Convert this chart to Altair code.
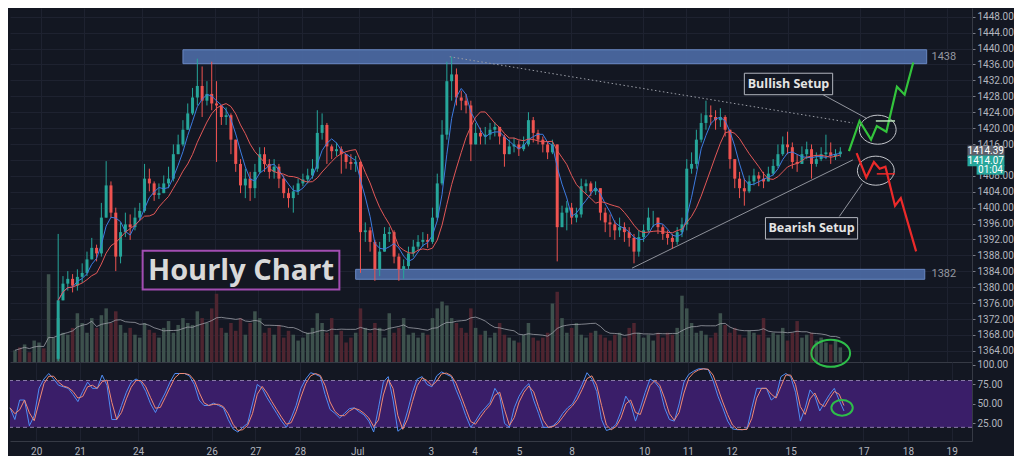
import altair as alt
import numpy as np
import pandas as pd

# ---------------- data ----------------
FIRST_SLOT = 9          # first visible candle slot
FIRST_OPEN = 1362.0

closes = [
    1376.7, 1380.9, 1382.1, 1380.4, 1382.6, 1383.6, 1387.0, 1389.9, 1388.5, 1397.5,
    1405.6, 1398.75, 1387.7, 1393.85, 1395.8, 1395.1, 1397.5, 1399.2, 1407.3, 1406.1,
    1403.2, 1403.65, 1406.1, 1407.3, 1413.45, 1415.9, 1419.6, 1423.7, 1427.7, 1430.6,
    1426.9, 1428.6, 1426.2, 1425.7, 1422.8, 1423.25, 1417.1, 1411.0, 1405.6, 1407.3,
    1404.9, 1409.0, 1413.45, 1411.0, 1409.0, 1410.3, 1407.3, 1403.65, 1402.4, 1404.1,
    1406.1, 1407.1, 1408.1, 1409.8, 1418.8, 1420.8, 1415.4, 1414.2, 1414.7, 1413.45,
    1411.5, 1411.0, 1411.5, 1393.85, 1394.3, 1391.4, 1384.5, 1388.95, 1393.4, 1393.85,
    1387.7, 1384.5, 1385.3, 1388.5, 1390.2, 1391.4, 1391.9, 1391.4, 1397.5, 1406.1,
    1418.35, 1431.8, 1433.5, 1427.7, 1426.9, 1425.7, 1415.9, 1418.8, 1417.9, 1418.35,
    1419.6, 1420.3, 1417.9, 1413.45, 1415.4, 1415.9, 1414.7, 1415.9, 1422.0, 1418.8,
    1417.1, 1415.9, 1413.9, 1415.9, 1395.1, 1398.75, 1400.0, 1397.5, 1398.3, 1405.4,
    1406.1, 1404.1, 1404.9, 1398.75, 1396.3, 1395.8, 1394.3, 1395.1, 1393.85, 1392.4,
    1388.95, 1392.6, 1394.3, 1397.5, 1397.5, 1395.1, 1393.4, 1392.4, 1391.4, 1393.85,
    1395.8, 1409.8, 1411.0, 1417.1, 1421.3, 1423.25, 1422.8, 1422.0, 1422.8, 1419.6,
    1412.2, 1407.3, 1404.9, 1404.1, 1406.6, 1408.1, 1407.3, 1406.6, 1408.55, 1410.5,
    1413.45, 1415.9, 1415.2, 1411.5, 1411.0, 1413.45, 1414.7, 1411.0, 1412.2, 1413.45,
    1413.9, 1413.0, 1413.45, 1414.1,
]
highs = [
    1393.4, 1382.8, 1384.05, 1383.3, 1384.5, 1386.0, 1388.95, 1392.4, 1390.7, 1401.2,
    1411.7, 1406.6, 1400.0, 1396.3, 1398.75, 1398.3, 1400.0, 1401.2, 1411.0, 1409.8,
    1406.6, 1406.1, 1408.1, 1410.3, 1415.9, 1418.35, 1422.0, 1426.2, 1430.1, 1437.46,
    1435.5, 1431.8, 1436.7, 1431.8, 1425.7, 1425.2, 1423.7, 1417.1, 1412.2, 1409.8,
    1409.0, 1411.0, 1415.2, 1415.2, 1412.2, 1412.2, 1411.0, 1408.1, 1404.9, 1405.6,
    1407.3, 1408.55, 1409.8, 1412.2, 1424.5, 1423.7, 1421.3, 1415.9, 1416.4, 1415.4,
    1413.45, 1413.45, 1413.0, 1411.7, 1396.3, 1395.1, 1391.9, 1391.4, 1395.1, 1395.1,
    1394.3, 1388.5, 1387.0, 1390.2, 1391.9, 1393.1, 1393.85, 1393.4, 1400.0, 1408.55,
    1422.0, 1436.7, 1437.95, 1435.0, 1429.4, 1428.6, 1426.9, 1421.3, 1420.1, 1420.3,
    1421.3, 1421.5, 1420.3, 1418.35, 1417.1, 1417.6, 1416.9, 1417.9, 1424.0, 1422.8,
    1419.6, 1417.9, 1416.6, 1417.1, 1415.9, 1400.5, 1401.7, 1401.2, 1400.0, 1407.3,
    1407.1, 1406.6, 1406.6, 1404.9, 1400.0, 1398.3, 1396.8, 1397.5, 1396.3, 1395.1,
    1393.4, 1394.3, 1395.8, 1400.0, 1399.2, 1397.5, 1395.8, 1394.3, 1393.4, 1395.1,
    1397.5, 1412.2, 1413.9, 1419.6, 1423.7, 1426.9, 1425.7, 1424.5, 1425.0, 1423.25,
    1419.6, 1412.2, 1409.0, 1407.3, 1408.1, 1409.8, 1409.0, 1409.0, 1410.3, 1412.2,
    1415.9, 1417.9, 1419.1, 1416.4, 1413.45, 1415.4, 1416.6, 1415.9, 1413.9, 1415.2,
    1418.35, 1416.4, 1414.7, 1415.2,
]
lows = [
    1361.5, 1376.7, 1379.15, 1378.7, 1379.15, 1381.1, 1382.8, 1387.7, 1386.5, 1387.7,
    1397.5, 1397.5, 1384.05, 1386.0, 1392.6, 1391.9, 1394.3, 1396.8, 1398.75, 1404.1,
    1401.7, 1402.2, 1403.65, 1404.9, 1406.6, 1413.45, 1415.4, 1419.6, 1423.25, 1425.7,
    1422.8, 1425.7, 1424.5, 1411.5, 1420.8, 1420.8, 1413.45, 1409.0, 1403.65, 1402.4,
    1401.7, 1402.4, 1408.55, 1409.0, 1407.3, 1407.3, 1404.9, 1402.4, 1400.0, 1398.75,
    1403.2, 1405.4, 1406.1, 1407.3, 1409.0, 1417.1, 1411.0, 1412.2, 1413.0, 1408.55,
    1409.8, 1409.5, 1409.0, 1383.6, 1391.4, 1388.95, 1381.6, 1382.8, 1388.95, 1391.4,
    1386.0, 1381.6, 1382.1, 1384.5, 1387.7, 1389.4, 1390.2, 1389.9, 1390.9, 1396.8,
    1405.6, 1417.1, 1426.9, 1425.7, 1424.5, 1423.7, 1411.7, 1415.9, 1415.9, 1415.9,
    1417.1, 1417.9, 1415.9, 1410.3, 1413.45, 1413.9, 1413.0, 1414.2, 1415.4, 1416.4,
    1415.9, 1413.9, 1412.2, 1413.45, 1386.5, 1395.1, 1394.3, 1395.8, 1396.3, 1397.5,
    1403.65, 1402.9, 1403.2, 1396.8, 1393.85, 1392.6, 1391.9, 1392.6, 1391.4, 1390.2,
    1386.0, 1387.7, 1391.4, 1393.85, 1395.1, 1393.4, 1391.9, 1390.7, 1389.7, 1390.7,
    1392.6, 1394.3, 1408.55, 1409.8, 1416.4, 1419.6, 1420.8, 1419.6, 1420.3, 1417.9,
    1409.8, 1404.9, 1402.4, 1400.5, 1403.65, 1405.6, 1405.4, 1404.9, 1406.6, 1408.1,
    1410.0, 1413.0, 1413.45, 1409.8, 1409.0, 1411.0, 1412.2, 1407.3, 1410.3, 1411.7,
    1412.2, 1411.0, 1412.0, 1412.7,
]
volumes = [
    12, 15, 18, 10, 22, 20, 14, 90, 25, 45,
    30, 28, 35, 50, 40, 30, 45, 35, 48, 55,
    40, 52, 38, 30, 35, 28, 25, 40, 33, 30,
    25, 35, 42, 30, 38, 45, 40, 38, 52, 45,
    40, 55, 70, 35, 30, 40, 32, 45, 28, 40,
    52, 45, 30, 35, 28, 38, 25, 32, 28, 22,
    25, 30, 35, 50, 40, 30, 45, 28, 32, 20,
    25, 30, 55, 35, 30, 40, 35, 25, 50, 30,
    35, 45, 28, 30, 25, 30, 28, 45, 55, 62,
    58, 45, 40, 35, 30, 55, 35, 28, 32, 25,
    30, 40, 28, 25, 22, 20, 28, 40, 25, 22,
    25, 30, 60, 72, 45, 30, 35, 40, 28, 25,
    30, 32, 28, 25, 22, 28, 30, 25, 35, 40,
    30, 25, 28, 22, 30, 25, 30, 28, 35, 68,
    55, 40, 30, 32, 28, 25, 30, 50, 38, 30,
    35, 28, 25, 32, 30, 28, 45, 25, 30, 28,
    35, 22, 30, 42, 25, 28, 30, 22, 25, 20,
    18, 22, 15,
]
pre_volume_dir = ["up", "down", "up", "down", "up", "up", "down", "up", "up"]
stoch_k = [
    45, 30, 55, 55, 22, 35, 70, 82, 89, 82,
    74, 72, 70, 62, 53, 66, 78, 70, 70, 87,
    74, 30, 30, 48, 65, 78, 82, 78, 66, 50,
    39, 52, 64, 78, 89, 89, 89, 86, 75, 55,
    48, 48, 51, 48, 45, 30, 18, 14, 20, 25,
    50, 75, 70, 58, 48, 38, 28, 20, 32, 48,
    70, 82, 90, 88, 85, 62, 43, 38, 32, 38,
    44, 45, 40, 36, 28, 14, 45, 78, 85, 55,
    15, 20, 41, 65, 82, 85, 75, 72, 86, 91,
    88, 85, 68, 53, 35, 20, 28, 38, 45, 52,
    70, 60, 25, 20, 45, 60, 70, 76, 55, 38,
    20, 20, 22, 28, 38, 45, 50, 62, 75, 90,
    82, 66, 30, 16, 18, 24, 40, 60, 50, 28,
    45, 65, 82, 78, 70, 45, 30, 28, 50, 78,
    88, 92, 95, 95, 94, 80, 60, 45, 28, 18,
    17, 17, 18, 45, 70, 70, 70, 55, 60, 85,
    89, 85, 65, 28, 45, 68, 60, 41, 52, 62,
    70, 55, 41,
]

date_pos = [5.4, 14.4, 26.4, 41.6, 50.6, 59.8, 71.6, 86.8, 95.8, 105.0,
            115.8, 130.8, 139.8, 148.8, 161.0, 176.0, 185.2, 194.2]
date_lab = ["20", "21", "24", "26", "27", "28", "Jul", "3", "4", "5",
            "8", "10", "11", "12", "15", "17", "18", "19"]
price_ticks = list(range(1364, 1449, 4))
hidden_price_labels = [1412]   # covered by the last-price tags in the reference
osc_ticks = [25, 50, 75, 100]

# annotations (slot, price)
band_x1 = [35, 71]
band_x2 = [190, 189.6]
band_lo = [1436.2, 1382.0]
band_hi = [1439.7, 1384.5]
band_text = ["1438", "1382"]
band_text_y = [1438.0, 1383.3]

trend_x1 = [90.6, 128.6]
trend_y1 = [1437.95, 1384.8]
trend_x2 = [174.6, 174.6]
trend_y2 = [1421.3, 1412.0]

bull_x = [173.8, 176.0, 178.4, 179.6, 181.6, 183.8, 185.4, 187.2]
bull_y = [1414.2, 1421.8, 1417.1, 1420.5, 1419.1, 1430.4, 1428.4, 1436.5]
bear_x = [175.4, 177.4, 179.0, 180.2, 181.4, 183.4, 184.6, 187.8]
bear_y = [1413.7, 1407.6, 1411.5, 1409.8, 1410.3, 1400.5, 1402.4, 1389.0]

setup_text = ["Bullish Setup", "Bearish Setup"]
setup_x1 = [152.0, 156.4]
setup_x2 = [170.4, 175.6]
setup_lo = [1428.4, 1392.1]
setup_hi = [1433.8, 1397.5]
conn_x1 = [168.4, 171.8]
conn_y1 = [1428.4, 1397.8]
conn_x2 = [177.4, 176.6]
conn_y2 = [1422.5, 1406.1]
ell_x = [179.8, 179.4]
ell_y = [1419.6, 1409.3]

# ---------------- frames ----------------
n = len(closes)
assert len(highs) == n and len(lows) == n
assert len(volumes) == len(stoch_k)
slots = list(range(FIRST_SLOT, FIRST_SLOT + n))
opens = [FIRST_OPEN] + closes[:-1]
candles = pd.DataFrame(dict(slot=slots, open=opens, high=highs, low=lows, close=closes))
candles["high"] = candles[["high", "open", "close"]].max(axis=1)
candles["low"] = candles[["low", "open", "close"]].min(axis=1)
candles["col"] = np.where(candles["close"] >= candles["open"], "#26a69a", "#ef5350")
up_dir = dict(zip(candles["slot"], candles["close"] >= candles["open"]))

vol = pd.DataFrame(dict(slot=list(range(len(volumes))), vol=volumes))
vcol = []
for s in vol["slot"]:
    if s in up_dir:
        up = bool(up_dir[s])
    else:
        up = pre_volume_dir[s] == "up" if s < len(pre_volume_dir) else True
    vcol.append("#3d514d" if up else "#4e2530")
vol["col"] = vcol

osc = pd.DataFrame(dict(slot=list(range(len(stoch_k))), k=stoch_k))

W, H_PRICE, H_OSC = 962, 354, 79
XS = alt.Scale(domain=[0, 198.4], nice=False, zero=False)
PY = alt.Scale(domain=[1361.2, 1450.2], nice=False, zero=False)
VY = alt.Scale(domain=[0, 363], nice=False, zero=True)
OY = alt.Scale(domain=[2.5, 103.75], nice=False, zero=False)

GRID = "#1e2230"
LINE = "#363a45"
LAB = "#b2b5be"
FONT = "Roboto"

price_x_axis = alt.Axis(values=date_pos, labels=False, ticks=False, domain=True,
                        domainColor=LINE, grid=True, gridColor=GRID, title=None,
                        minExtent=0, maxExtent=0, offset=0)
label_expr = "[" + ",".join("'%s'" % s for s in date_lab) + "][indexof([" + \
    ",".join(str(p) for p in date_pos) + "], datum.value)]"
osc_x_axis = alt.Axis(values=date_pos, labelExpr=label_expr, ticks=False, domain=True,
                      domainColor=LINE, grid=True, gridColor=GRID, labelColor=LAB,
                      labelFont=FONT, labelFontSize=10, labelPadding=5, title=None,
                      labelOverlap=False, labelFlush=False,
                      labelFontWeight={"condition": {"test": "datum.label == 'Jul'", "value": "bold"},
                                       "value": "normal"})
price_label_expr = "indexof([" + ",".join(str(v) for v in hidden_price_labels) + \
    "], datum.value) >= 0 ? '' : format(datum.value, '.2f')"
price_y_axis = alt.Axis(orient="right", values=price_ticks, labelExpr=price_label_expr, title=None,
                        labelColor=LAB, labelFont=FONT, labelFontSize=10, labelPadding=2,
                        ticks=True, tickSize=3, tickColor="#787b86", domain=True,
                        domainColor=LINE, grid=True, gridColor=GRID, labelOverlap=False)
osc_y_axis = alt.Axis(orient="right", values=osc_ticks, format=".2f", title=None,
                      labelColor=LAB, labelFont=FONT, labelFontSize=10, labelPadding=2,
                      ticks=True, tickSize=3, tickColor="#787b86", domain=True,
                      domainColor=LINE, grid=False, labelOverlap=False)


def px(f):
    return alt.X(f, type="quantitative", scale=XS, axis=price_x_axis)


def py(f):
    return alt.Y(f, type="quantitative", scale=PY, axis=price_y_axis)


def vy(f):
    return alt.Y(f, type="quantitative", scale=VY, axis=None)


def ox(f):
    return alt.X(f, type="quantitative", scale=XS, axis=osc_x_axis)


def oy(f):
    return alt.Y(f, type="quantitative", scale=OY, axis=osc_y_axis)


def ellipse(ratio):
    return "M -1 0 A 1 %.2f 0 1 1 1 0 A 1 %.2f 0 1 1 -1 0 Z" % (ratio, ratio)


# ---------------- volume sub-layer ----------------
vol_bars = alt.Chart(vol).mark_bar(size=3.5).encode(
    x=px("slot"), y=vy("vol"), color=alt.Color("col:N", scale=None))
vol_ma = alt.Chart(vol).transform_window(
    vma="mean(vol)", frame=[-9, 0], sort=[alt.SortField("slot")]
).mark_line(color="#a3a6ad", strokeWidth=1, opacity=0.75).encode(x=px("slot"), y=vy("vma:Q"))
vol_circle = alt.Chart(pd.DataFrame(dict(slot=[170.0], v=[9.0]))).mark_point(
    shape=ellipse(0.7), size=1505, filled=False, color="#2ebd4a", strokeWidth=2, opacity=1
).encode(x=px("slot"), y=vy("v"))
vol_group = alt.layer(vol_bars, vol_ma, vol_circle)

# ---------------- price sub-layer ----------------
bands = pd.DataFrame(dict(x1=band_x1, x2=band_x2, lo=band_lo, hi=band_hi))
band_layer = alt.Chart(bands).mark_rect(color="#4a68a0", opacity=0.95, stroke="#6e8ecb",
                                        strokeWidth=1).encode(
    x=px("x1"), x2=alt.X2("x2"), y=py("lo"), y2=alt.Y2("hi"))
band_lbl = alt.Chart(pd.DataFrame(dict(x=[191.0, 191.0], y=band_text_y, t=band_text))).mark_text(
    align="left", baseline="middle", color="#9598a1", font=FONT, fontSize=11
).encode(x=px("x"), y=py("y"), text="t:N")

trend = pd.DataFrame(dict(x1=trend_x1, y1=trend_y1, x2=trend_x2, y2=trend_y2))
trend_dotted = alt.Chart(trend.iloc[[0]]).mark_rule(color="#9a9da6", strokeWidth=1,
                                                     strokeDash=[1.5, 2.5]).encode(
    x=px("x1"), y=py("y1"), x2=alt.X2("x2"), y2=alt.Y2("y2"))
trend_solid = alt.Chart(trend.iloc[[1]]).mark_rule(color="#8e919a", strokeWidth=1).encode(
    x=px("x1"), y=py("y1"), x2=alt.X2("x2"), y2=alt.Y2("y2"))

wicks = alt.Chart(candles).mark_rule(strokeWidth=1, clip=True).encode(
    x=px("slot"), y=py("low"), y2=alt.Y2("high"), color=alt.Color("col:N", scale=None))
bodies = alt.Chart(candles).mark_bar(size=3, clip=True).encode(
    x=px("slot"), y=py("open"), y2=alt.Y2("close"), color=alt.Color("col:N", scale=None))
ma_fast = alt.Chart(candles).transform_window(
    m="mean(close)", frame=[-3, 0], sort=[alt.SortField("slot")]
).mark_line(color="#3d7be0", strokeWidth=1, clip=True).encode(x=px("slot"), y=py("m:Q"))
ma_slow = alt.Chart(candles).transform_window(
    m="mean(close)", frame=[-8, 0], sort=[alt.SortField("slot")]
).mark_line(color="#e25757", strokeWidth=1, clip=True).encode(x=px("slot"), y=py("m:Q"))

hourly_box = alt.Chart(pd.DataFrame(dict(x1=[26.6], x2=[67.6], lo=[1379.4], hi=[1389.2]))).mark_rect(
    fill="#131722", stroke="#a24db2", strokeWidth=2).encode(
    x=px("x1"), x2=alt.X2("x2"), y=py("lo"), y2=alt.Y2("hi"))
hourly_txt = alt.Chart(pd.DataFrame(dict(x=[47.1], y=[1384.2], t=["Hourly Chart"]))).mark_text(
    font="Open Sans", fontWeight="bold", fontSize=29, color="#d9d9d9", baseline="middle"
).encode(x=px("x"), y=py("y"), text="t:N")

setup = pd.DataFrame(dict(x1=setup_x1, x2=setup_x2, lo=setup_lo, hi=setup_hi, t=setup_text,
                          xm=[(a + b) / 2 for a, b in zip(setup_x1, setup_x2)],
                          ym=[(a + b) / 2 for a, b in zip(setup_lo, setup_hi)]))
conn = pd.DataFrame(dict(x1=conn_x1, y1=conn_y1, x2=conn_x2, y2=conn_y2))
conn_layer = alt.Chart(conn).mark_rule(color="#b2b5be", strokeWidth=0.8).encode(
    x=px("x1"), y=py("y1"), x2=alt.X2("x2"), y2=alt.Y2("y2"))
setup_box = alt.Chart(setup).mark_rect(fill="#131722", stroke="#b2b5be", strokeWidth=1).encode(
    x=px("x1"), x2=alt.X2("x2"), y=py("lo"), y2=alt.Y2("hi"))
setup_txt = alt.Chart(setup).mark_text(font="Open Sans", fontWeight="bold", fontSize=12.5,
                                       color="#e4e4e4", baseline="middle").encode(
    x=px("xm"), y=py("ym"), text="t:N")

ells = alt.Chart(pd.DataFrame(dict(x=ell_x, y=ell_y))).mark_point(
    shape=ellipse(0.79), size=1354, filled=False, color="#c4c6cc", strokeWidth=1, opacity=1
).encode(x=px("x"), y=py("y"))

zz_bull = alt.Chart(pd.DataFrame(dict(x=bull_x, y=bull_y, o=list(range(len(bull_x)))))).mark_line(
    color="#33c43c", strokeWidth=2.2).encode(x=px("x"), y=py("y"), order="o:Q")
zz_bear = alt.Chart(pd.DataFrame(dict(x=bear_x, y=bear_y, o=list(range(len(bear_x)))))).mark_line(
    color="#ec2a2a", strokeWidth=2.2).encode(x=px("x"), y=py("y"), order="o:Q")
ticks_df = pd.DataFrame(dict(x1=[179.4, 179.6], x2=[183.4, 183.4], y=[1421.8, 1408.5],
                             c=["#b9e3b9", "#ec2a2a"]))
small_marks = alt.Chart(ticks_df).mark_rule(strokeWidth=1.5).encode(
    x=px("x1"), x2=alt.X2("x2"), y=py("y"), color=alt.Color("c:N", scale=None))

marker_df = pd.DataFrame(dict(
    x1=[198.5, 198.5, 200.4], x2=[206.2, 206.2, 206.2],
    lo=[1412.8, 1410.4, 1408.3], hi=[1415.6, 1413.1, 1410.7],
    fill=["#5d606b", "#26a69a", "#26a69a"],
    tx=[202.3, 202.3, 203.3], ty=[1414.2, 1411.75, 1409.5],
    t=["1414.39", "1414.07", "01:04"]))
marker_box = alt.Chart(marker_df).mark_rect().encode(
    x=px("x1"), x2=alt.X2("x2"), y=py("lo"), y2=alt.Y2("hi"), color=alt.Color("fill:N", scale=None))
marker_txt = alt.Chart(marker_df).mark_text(font=FONT, fontSize=10, color="#ffffff",
                                            baseline="middle").encode(
    x=px("tx"), y=py("ty"), text="t:N")

price_group = alt.layer(band_layer, trend_dotted, trend_solid, wicks, bodies, ma_fast, ma_slow,
                        hourly_box, hourly_txt, conn_layer, setup_box, setup_txt, ells,
                        zz_bull, zz_bear, small_marks, band_lbl, marker_box, marker_txt)

price_panel = alt.layer(vol_group, price_group).resolve_scale(y="independent").properties(
    width=W, height=H_PRICE)

# ---------------- oscillator panel ----------------
osc_band = alt.Chart(pd.DataFrame(dict(x1=[0.0], x2=[198.4], lo=[20], hi=[80]))).mark_rect(
    color="#3a1e69").encode(x=ox("x1"), x2=alt.X2("x2"), y=oy("lo"), y2=alt.Y2("hi"))
osc_lines = alt.Chart(pd.DataFrame(dict(lvl=[20, 80]))).mark_rule(
    color="#8a7aa8", strokeDash=[4, 3], strokeWidth=1).encode(y=oy("lvl"))
k_line = alt.Chart(osc).mark_line(color="#4f8df5", strokeWidth=1).encode(x=ox("slot"), y=oy("k"))
d_line = alt.Chart(osc).transform_window(
    d="mean(k)", frame=[-1, 0], sort=[alt.SortField("slot")]
).mark_line(color="#f08a74", strokeWidth=1).encode(x=ox("slot"), y=oy("d:Q"))
osc_circle = alt.Chart(pd.DataFrame(dict(x=[171.6], v=[45.0]))).mark_point(
    shape=ellipse(0.73), size=458, filled=False, color="#2ebd4a", strokeWidth=2, opacity=1
).encode(x=ox("x"), y=oy("v"))

osc_panel = alt.layer(osc_band, osc_lines, k_line, d_line, osc_circle).properties(
    width=W, height=H_OSC)

chart = alt.vconcat(price_panel, osc_panel, spacing=0, bounds="flush").properties(
    background="#131722", padding=0
).configure_view(stroke=None)

chart.save("out.html", embed_options={"renderer": "svg", "actions": False})
